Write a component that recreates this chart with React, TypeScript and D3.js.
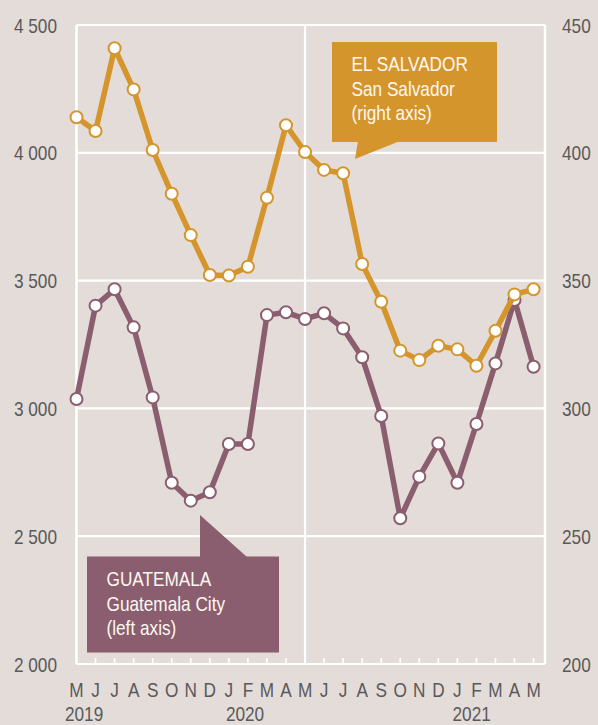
import React from "react";
import * as d3 from "d3";

const months = ["M","J","J","A","S","O","N","D","J","F","M","A","M","J","J","A","S","O","N","D","J","F","M","A","M"];
const years = ["2019","2020","2021"];
const yearIndex = [0.4, 8.85, 20.75];
const guatemala = [3037,3402,3466,3317,3043,2709,2639,2672,2861,2861,3365,3376,3350,3372,3313,3200,2970,2570,2733,2863,2709,2939,3176,3424,3163];
const elSalvador = [413.9,408.5,440.9,424.8,401.1,384,367.8,352.2,352,355.4,382.4,410.8,400.3,393.3,392,356.5,341.7,322.6,318.9,324.5,323.1,316.7,330.4,344.6,346.6];
const leftTicks = [2000,2500,3000,3500,4000,4500];
const rightTicks = [200,250,300,350,400,450];
const leftTickLabels = ["2 000","2 500","3 000","3 500","4 000","4 500"];
const salvadorLabel = ["EL SALVADOR","San Salvador","(right axis)"];
const guatemalaLabel = ["GUATEMALA","Guatemala City","(left axis)"];

const W = 598, H = 725;
const BG = "#e4dcd9";
const ORANGE = "#d5952d";
const PURPLE = "#8a5e6f";
const GREY = "#595959";
const FONT = "'Liberation Sans', Arial, sans-serif";
const SX = 0.82;

function T(props: { x: number; y: number; anchor?: string; fill: string; size?: number; dy?: string; children: React.ReactNode }) {
  const { x, y, anchor = "start", fill, size = 21, dy, children } = props;
  return (
    <text transform={`translate(${x},${y}) scale(${SX},1)`} textAnchor={anchor} fontSize={size} fill={fill} dy={dy}>
      {children}
    </text>
  );
}

export default function App() {
  const x = d3.scaleLinear().domain([0, 24.6]).range([76.5, 545]);
  const yL = d3.scaleLinear().domain([2000, 4500]).range([664, 25]);
  const yR = d3.scaleLinear().domain([200, 450]).range([664, 25]);
  const lineL = d3.line<number>().x((_, i) => x(i)).y(d => yL(d));
  const lineR = d3.line<number>().x((_, i) => x(i)).y(d => yR(d));
  const left = x(0), right = x(24.6), top = yL(4500), bottom = yL(2000);

  return (
    <svg width={W} height={H} style={{ position: "absolute", left: 0, top: 0 }} fontFamily={FONT}>
      <rect x={0} y={0} width={W} height={H} fill={BG} />
      {leftTicks.map(t => (
        <line key={t} x1={left} x2={right} y1={yL(t)} y2={yL(t)} stroke="#fff" strokeWidth={2.2} />
      ))}
      <line x1={left} x2={left} y1={top} y2={bottom} stroke="#fff" strokeWidth={2.5} />
      <line x1={right} x2={right} y1={top} y2={bottom} stroke="#fff" strokeWidth={2.5} />
      <line x1={x(12)} x2={x(12)} y1={top} y2={bottom} stroke="#fff" strokeWidth={2.2} />
      {months.map((m, i) => i > 0 ? (
        <line key={"t" + i} x1={x(i)} x2={x(i)} y1={bottom} y2={bottom - 6} stroke="#fff" strokeWidth={1.6} />
      ) : null)}
      {leftTicks.map((t, i) => (
        <T key={"l" + t} x={57} y={yL(t)} dy="0.36em" anchor="end" fill={GREY}>{leftTickLabels[i]}</T>
      ))}
      {rightTicks.map(t => (
        <T key={"r" + t} x={562} y={yR(t)} dy="0.36em" fill={GREY}>{t}</T>
      ))}
      {months.map((m, i) => (
        <T key={"m" + i} x={x(i)} y={696.5} anchor="middle" fill={GREY}>{m}</T>
      ))}
      {years.map((yv, i) => (
        <T key={yv} x={x(yearIndex[i])} y={720.5} anchor="middle" fill={GREY}>{yv}</T>
      ))}
      <path d={lineL(guatemala) || ""} fill="none" stroke={PURPLE} strokeWidth={5.5} strokeLinejoin="round" />
      {guatemala.map((v, i) => (
        <circle key={"g" + i} cx={x(i)} cy={yL(v)} r={6} fill="#fff" stroke={PURPLE} strokeWidth={2} />
      ))}
      <path d={lineR(elSalvador) || ""} fill="none" stroke={ORANGE} strokeWidth={5.5} strokeLinejoin="round" />
      {elSalvador.map((v, i) => (
        <circle key={"s" + i} cx={x(i)} cy={yR(v)} r={6} fill="#fff" stroke={ORANGE} strokeWidth={2} />
      ))}
      <rect x={332} y={42} width={165} height={100} fill={ORANGE} />
      <polygon points="358,141 355,159 400,141" fill={ORANGE} />
      {salvadorLabel.map((s, i) => (
        <T key={s} x={351.5} y={71 + i * 24.5} fill="#fdf8ef">{s}</T>
      ))}
      <rect x={87} y={556.5} width={192} height={96} fill={PURPLE} />
      <polygon points="200,557 200,515 247,557" fill={PURPLE} />
      {guatemalaLabel.map((s, i) => (
        <T key={s} x={106.5} y={586 + i * 24.5} fill="#fdf8ef">{s}</T>
      ))}
    </svg>
  );
}
